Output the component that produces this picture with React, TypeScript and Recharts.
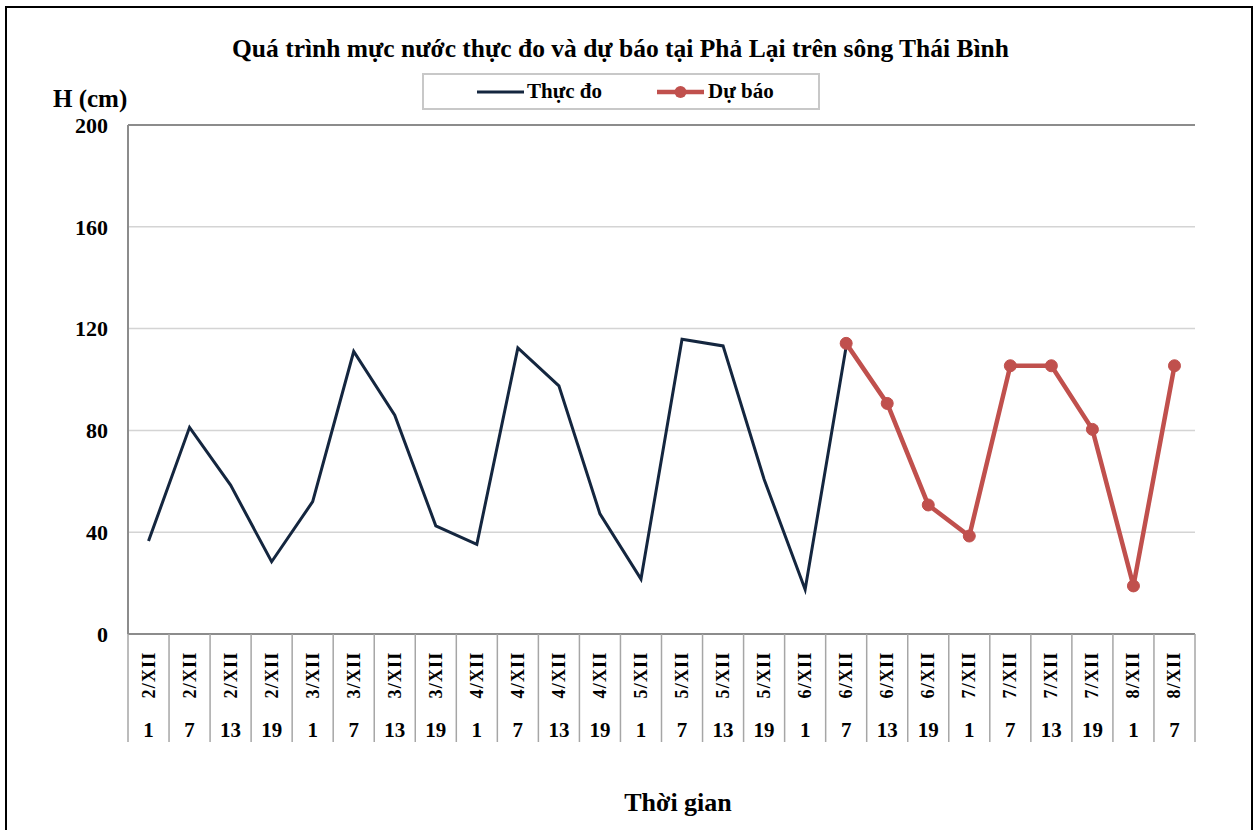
import React from "react";
import {
  LineChart,
  Line,
  XAxis,
  YAxis,
  CartesianGrid,
  ReferenceLine,
} from "recharts";

const dates = [
  "2/XII", "2/XII", "2/XII", "2/XII",
  "3/XII", "3/XII", "3/XII", "3/XII",
  "4/XII", "4/XII", "4/XII", "4/XII",
  "5/XII", "5/XII", "5/XII", "5/XII",
  "6/XII", "6/XII", "6/XII", "6/XII",
  "7/XII", "7/XII", "7/XII", "7/XII",
  "8/XII", "8/XII",
];
const hours = [
  "1", "7", "13", "19",
  "1", "7", "13", "19",
  "1", "7", "13", "19",
  "1", "7", "13", "19",
  "1", "7", "13", "19",
  "1", "7", "13", "19",
  "1", "7",
];
const actual: (number | null)[] = [
  36.5, 81.2, 58.5, 28.4, 52, 111, 86, 42.5, 35.2, 112.4, 97.5, 47.2, 21.6,
  115.8, 113.2, 60.8, 17.5, 113, null, null, null, null, null, null, null, null,
];
const forecast: (number | null)[] = [
  null, null, null, null, null, null, null, null, null, null, null, null, null,
  null, null, null, null, 114.2, 90.6, 50.7, 38.5, 105.4, 105.4, 80.4, 18.9, 105.4,
];
const yTicks = [0, 40, 80, 120, 160, 200];

const data = dates.map((d, i) => ({
  idx: i,
  date: d,
  hour: hours[i],
  actual: actual[i],
  forecast: forecast[i],
}));

const FONT = '"Liberation Serif", "Times New Roman", serif';
const W = 1257;
const H = 830;
const M = { top: 125, right: 62, bottom: 88, left: 68 };
const Y_AXIS_W = 60;
const X_AXIS_H = 108;
const PLOT_W = W - M.left - Y_AXIS_W - M.right;
const BAND = PLOT_W / dates.length;
const NAVY = "#14263f";
const RED = "#c0504d";
const AXIS = "#8c8c8c";

const XTick = (props: any) => {
  const { x, y, payload } = props;
  const i = payload.value as number;
  const d = data[i];
  const last = i === data.length - 1;
  return (
    <g>
      <line x1={x - BAND / 2} x2={x - BAND / 2} y1={y} y2={y + X_AXIS_H} stroke="#a6a6a6" strokeWidth={1.5} />
      {last && (
        <line x1={x + BAND / 2} x2={x + BAND / 2} y1={y} y2={y + X_AXIS_H} stroke="#a6a6a6" strokeWidth={1.5} />
      )}
      <text
        x={x}
        y={y + 41}
        transform={`rotate(-90, ${x}, ${y + 41})`}
        textAnchor="middle"
        dominantBaseline="central"
        fontFamily={FONT}
        fontWeight="bold"
        fontSize={18}
        letterSpacing={1.2}
        fill="#000"
      >
        {d.date}
      </text>
      <text
        x={x}
        y={y + 96}
        textAnchor="middle"
        dominantBaseline="central"
        fontFamily={FONT}
        fontWeight="bold"
        fontSize={21}
        fill="#000"
      >
        {d.hour}
      </text>
    </g>
  );
};

const LegendBox = () => (
  <div
    style={{
      position: "absolute",
      left: 422,
      top: 73,
      width: 398,
      height: 37,
      boxSizing: "border-box",
      border: "2px solid #c8c8c8",
      background: "#fff",
      display: "flex",
      alignItems: "center",
      paddingLeft: 53,
      fontFamily: FONT,
      fontWeight: "bold",
      fontSize: 21,
      lineHeight: 1,
      color: "#000",
    }}
  >
    <svg width={47} height={16} style={{ display: "block" }}>
      <line x1={0} x2={47} y1={8} y2={8} stroke={NAVY} strokeWidth={3} />
    </svg>
    <span style={{ marginLeft: 3, width: 130, whiteSpace: "nowrap" }}>Thực đo</span>
    <svg width={47} height={16} style={{ display: "block" }}>
      <line x1={0} x2={47} y1={8} y2={8} stroke={RED} strokeWidth={4.5} />
      <circle cx={23.5} cy={8} r={6} fill={RED} />
    </svg>
    <span style={{ marginLeft: 4, whiteSpace: "nowrap" }}>Dự báo</span>
  </div>
);

export default function App() {
  return (
    <div
      style={{
        position: "absolute",
        left: 0,
        top: 0,
        width: W,
        height: H,
        background: "#fff",
        overflow: "hidden",
        fontFamily: FONT,
      }}
    >
      <div
        style={{
          position: "absolute",
          left: 5,
          top: 6,
          width: 1248,
          height: 860,
          border: "2px solid #000",
          boxSizing: "border-box",
        }}
      />
      <div
        style={{
          position: "absolute",
          left: 0,
          top: 36,
          width: 1241,
          textAlign: "center",
          fontSize: 25.5,
          fontWeight: "bold",
          lineHeight: 1,
          whiteSpace: "nowrap",
        }}
      >
        Quá trình mực nước thực đo và dự báo tại Phả Lại trên sông Thái Bình
      </div>
      <div
        style={{
          position: "absolute",
          left: 53,
          top: 86,
          fontSize: 25,
          fontWeight: "bold",
          lineHeight: 1,
          whiteSpace: "nowrap",
        }}
      >
        H (cm)
      </div>
      <div
        style={{
          position: "absolute",
          left: 478,
          top: 790,
          width: 400,
          textAlign: "center",
          fontSize: 26,
          fontWeight: "bold",
          lineHeight: 1,
          whiteSpace: "nowrap",
        }}
      >
        Thời gian
      </div>
      <LegendBox />
      <div style={{ position: "absolute", left: 0, top: 0 }}>
        <LineChart width={W} height={H} data={data} margin={M}>
          <CartesianGrid vertical={false} stroke="#d4d4d4" strokeWidth={1.5} />
          <XAxis
            dataKey="idx"
            type="category"
            interval={0}
            height={X_AXIS_H}
            padding={{ left: BAND / 2, right: BAND / 2 }}
            tickSize={0}
            tickMargin={0}
            tickLine={false}
            axisLine={{ stroke: AXIS, strokeWidth: 2 }}
            tick={<XTick />}
          />
          <YAxis
            domain={[0, 200]}
            ticks={yTicks}
            width={Y_AXIS_W}
            tickSize={0}
            tickMargin={20}
            tickLine={false}
            axisLine={{ stroke: AXIS, strokeWidth: 2 }}
            tick={{ fontFamily: FONT, fontWeight: "bold", fontSize: 22, fill: "#000" }}
            interval={0}
          />
          <YAxis
            yAxisId="right"
            orientation="right"
            width={0}
            tick={false}
            tickLine={false}
            axisLine={{ stroke: AXIS, strokeWidth: 2 }}
          />
          <ReferenceLine y={200} stroke={AXIS} strokeWidth={2} />
          <Line
            name="Thực đo"
            dataKey="actual"
            stroke={NAVY}
            strokeWidth={3}
            dot={false}
            activeDot={false}
            isAnimationActive={false}
            connectNulls={false}
          />
          <Line
            name="Dự báo"
            dataKey="forecast"
            stroke={RED}
            strokeWidth={4.5}
            dot={{ r: 6, fill: RED, stroke: RED, strokeWidth: 1 }}
            activeDot={false}
            isAnimationActive={false}
            connectNulls={false}
          />
        </LineChart>
      </div>
    </div>
  );
}
